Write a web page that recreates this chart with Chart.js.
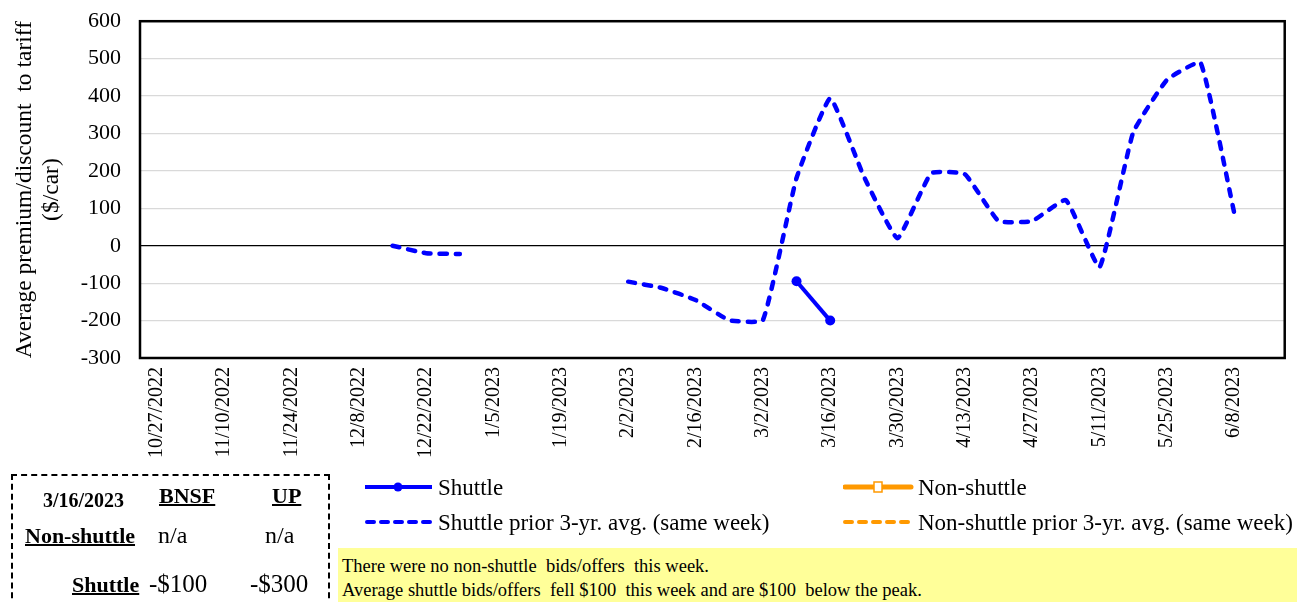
<!DOCTYPE html>
<html lang="en">
<head>
  <meta charset="UTF-8">
  <title>Shuttle bids/offers vs tariff</title>
  <script src="https://cdn.jsdelivr.net/npm/chart.js"></script>
  <style>
    body { margin: 0; background: #fff; font-family: "Liberation Serif", "Times New Roman", serif; }
    #wrap { position: relative; width: 1297px; height: 602px; overflow: hidden; }
    #chartBox { position: absolute; left: 0; top: -11px; width: 1301px; height: 613px; }
    .abs { position: absolute; white-space: pre; line-height: 1; }
    .leg { font-size: 23px; }
    #note { position: absolute; left: 338px; top: 548px; width: 959px; height: 54px; background: #ffff99; }
    #note div { position: absolute; left: 4px; font-size: 18.5px; line-height: 1; white-space: pre; }
    #tbl { position: absolute; left: 11px; top: 474px; width: 315px; height: 140px; border: 2px dashed #000; }
    .b { font-weight: bold; }
    .u { text-decoration: underline; text-decoration-thickness: 2px; }
  </style>
</head>
<body>
<div id="wrap">
  <div id="chartBox"><canvas id="chart"></canvas></div>

  <!-- legend -->
  <svg class="abs" style="left:365px;top:477px" width="70" height="20">
    <line x1="0" y1="10" x2="67" y2="10" stroke="#0000ff" stroke-width="4"/>
    <circle cx="33" cy="10" r="4.5" fill="#0000ff"/>
  </svg>
  <div class="abs leg" style="left:438px;top:476px">Shuttle</div>
  <svg class="abs" style="left:843px;top:477px" width="72" height="20">
    <line x1="2" y1="10" x2="68" y2="10" stroke="#ff9900" stroke-width="5" stroke-linecap="round"/>
    <rect x="31" y="5" width="8" height="10" fill="#fff" stroke="#ff9900" stroke-width="1.5"/>
  </svg>
  <div class="abs leg" style="left:918px;top:476px">Non-shuttle</div>
  <svg class="abs" style="left:365px;top:512px" width="70" height="20">
    <line x1="2" y1="10" x2="66" y2="10" stroke="#0000ff" stroke-width="4" stroke-linecap="round" stroke-dasharray="7 7"/>
  </svg>
  <div class="abs leg" style="left:438px;top:511px">Shuttle prior 3-yr. avg. (same week)</div>
  <svg class="abs" style="left:843px;top:512px" width="72" height="20">
    <line x1="2" y1="10" x2="66" y2="10" stroke="#ff9900" stroke-width="4" stroke-linecap="round" stroke-dasharray="7 7"/>
  </svg>
  <div class="abs leg" style="left:918px;top:511px">Non-shuttle prior 3-yr. avg. (same week)</div>

  <!-- comment box -->
  <div id="note">
    <div style="top:9px">There were no non-shuttle  bids/offers  this week.</div>
    <div style="top:33px">Average shuttle bids/offers  fell $100  this week and are $100  below the peak.</div>
  </div>

  <!-- summary table -->
  <div id="tbl"></div>
  <div class="abs b" style="left:43px;top:490px;font-size:20px">3/16/2023</div>
  <div class="abs b u" style="left:159px;top:485px;font-size:22px">BNSF</div>
  <div class="abs b u" style="left:272px;top:485px;font-size:22px">UP</div>
  <div class="abs b u" style="left:25px;top:525px;font-size:22px">Non-shuttle</div>
  <div class="abs" style="left:158px;top:523px;font-size:24px">n/a</div>
  <div class="abs" style="left:265px;top:523px;font-size:24px">n/a</div>
  <div class="abs b u" style="left:72px;top:574px;font-size:22px">Shuttle</div>
  <div class="abs" style="left:149px;top:571px;font-size:25px">-$100</div>
  <div class="abs" style="left:250px;top:571px;font-size:25px">-$300</div>
</div>

<script>
  // weekly categories, 10/27/2022 .. 6/15/2023
  const weeks = [
    '10/27/2022', '11/3/2022', '11/10/2022', '11/17/2022', '11/24/2022', '12/1/2022',
    '12/8/2022', '12/15/2022', '12/22/2022', '12/29/2022', '1/5/2023', '1/12/2023',
    '1/19/2023', '1/26/2023', '2/2/2023', '2/9/2023', '2/16/2023', '2/23/2023',
    '3/2/2023', '3/9/2023', '3/16/2023', '3/23/2023', '3/30/2023', '4/6/2023',
    '4/13/2023', '4/20/2023', '4/27/2023', '5/4/2023', '5/11/2023', '5/18/2023',
    '5/25/2023', '6/1/2023', '6/8/2023', '6/15/2023'
  ];

  const shuttle = [
    null, null, null, null, null, null, null, null, null, null, null, null,
    null, null, null, null, null, null, null, -95, -200, null, null, null,
    null, null, null, null, null, null, null, null, null, null
  ];

  const shuttlePrior = [
    null, null, null, null, null, null, null, 0, -20, -22, null, null,
    null, null, -96, -113, -145, -199, -199, 181, 394, 185, 20, 194,
    191, 66, 66, 122, -57, 303, 443, 489, 88, null
  ];

  const nonShuttle = weeks.map(() => null);
  const nonShuttlePrior = weeks.map(() => null);

  const yTicks = { min: -300, max: 600, step: 100 };

  const serif = '"Liberation Serif", "Times New Roman", serif';

  const framePlugin = {
    id: 'frame',
    afterDatasetsDraw(chart) {
      const a = chart.chartArea;
      const ctx = chart.ctx;
      ctx.save();
      ctx.strokeStyle = '#000';
      ctx.lineWidth = 2.5;
      ctx.strokeRect(a.left, a.top, a.right - a.left, a.bottom - a.top);
      ctx.restore();
    }
  };

  const ctx = document.getElementById('chart').getContext('2d');
  new Chart(ctx, {
    type: 'line',
    data: {
      labels: weeks,
      datasets: [
        {
          label: 'Shuttle',
          data: shuttle,
          borderColor: '#0000ff',
          backgroundColor: '#0000ff',
          borderWidth: 4,
          pointRadius: 5,
          pointBorderWidth: 0,
          spanGaps: false
        },
        {
          label: 'Non-shuttle',
          data: nonShuttle,
          borderColor: '#ff9900',
          backgroundColor: '#fff',
          borderWidth: 4,
          pointStyle: 'rect'
        },
        {
          label: 'Shuttle prior 3-yr. avg. (same week)',
          data: shuttlePrior,
          borderColor: '#0000ff',
          borderWidth: 4.5,
          borderDash: [7, 9],
          borderCapStyle: 'round',
          borderJoinStyle: 'round',
          pointRadius: 0,
          tension: 0.12,
          spanGaps: false
        },
        {
          label: 'Non-shuttle prior 3-yr. avg. (same week)',
          data: nonShuttlePrior,
          borderColor: '#ff9900',
          borderWidth: 4,
          borderDash: [7, 9],
          pointRadius: 0
        }
      ]
    },
    options: {
      responsive: true,
      maintainAspectRatio: false,
      animation: false,
      layout: { padding: { left: 11, right: 8, top: 12, bottom: 0 } },
      plugins: {
        legend: { display: false },
        tooltip: { enabled: false }
      },
      scales: {
        x: {
          offset: true,
          grid: { display: false, drawTicks: false },
          border: { display: false },
          afterFit(scale) { scale.height = 244; },
          ticks: {
            autoSkip: false,
            minRotation: 90,
            maxRotation: 90,
            padding: 9,
            color: '#000',
            font: { family: serif, size: 20 },
            callback: (v, i) => (i % 2 === 0 ? weeks[i] : '')
          }
        },
        y: {
          min: yTicks.min,
          max: yTicks.max,
          afterFit(scale) { scale.width = 129; },
          grid: {
            drawTicks: false,
            color: c => (c.tick && c.tick.value === 0 ? '#000' : '#d9d9d9'),
            lineWidth: 1.3
          },
          border: { display: false },
          ticks: {
            stepSize: yTicks.step,
            padding: 19,
            color: '#000',
            font: { family: serif, size: 22 }
          },
          title: {
            display: true,
            text: ['Average premium/discount  to tariff', '($/car)'],
            color: '#000',
            font: { family: serif, size: 23.5, lineHeight: 1.15 },
            padding: { top: 0, bottom: 4 }
          }
        }
      }
    },
    plugins: [framePlugin]
  });
</script>
</body>
</html>
